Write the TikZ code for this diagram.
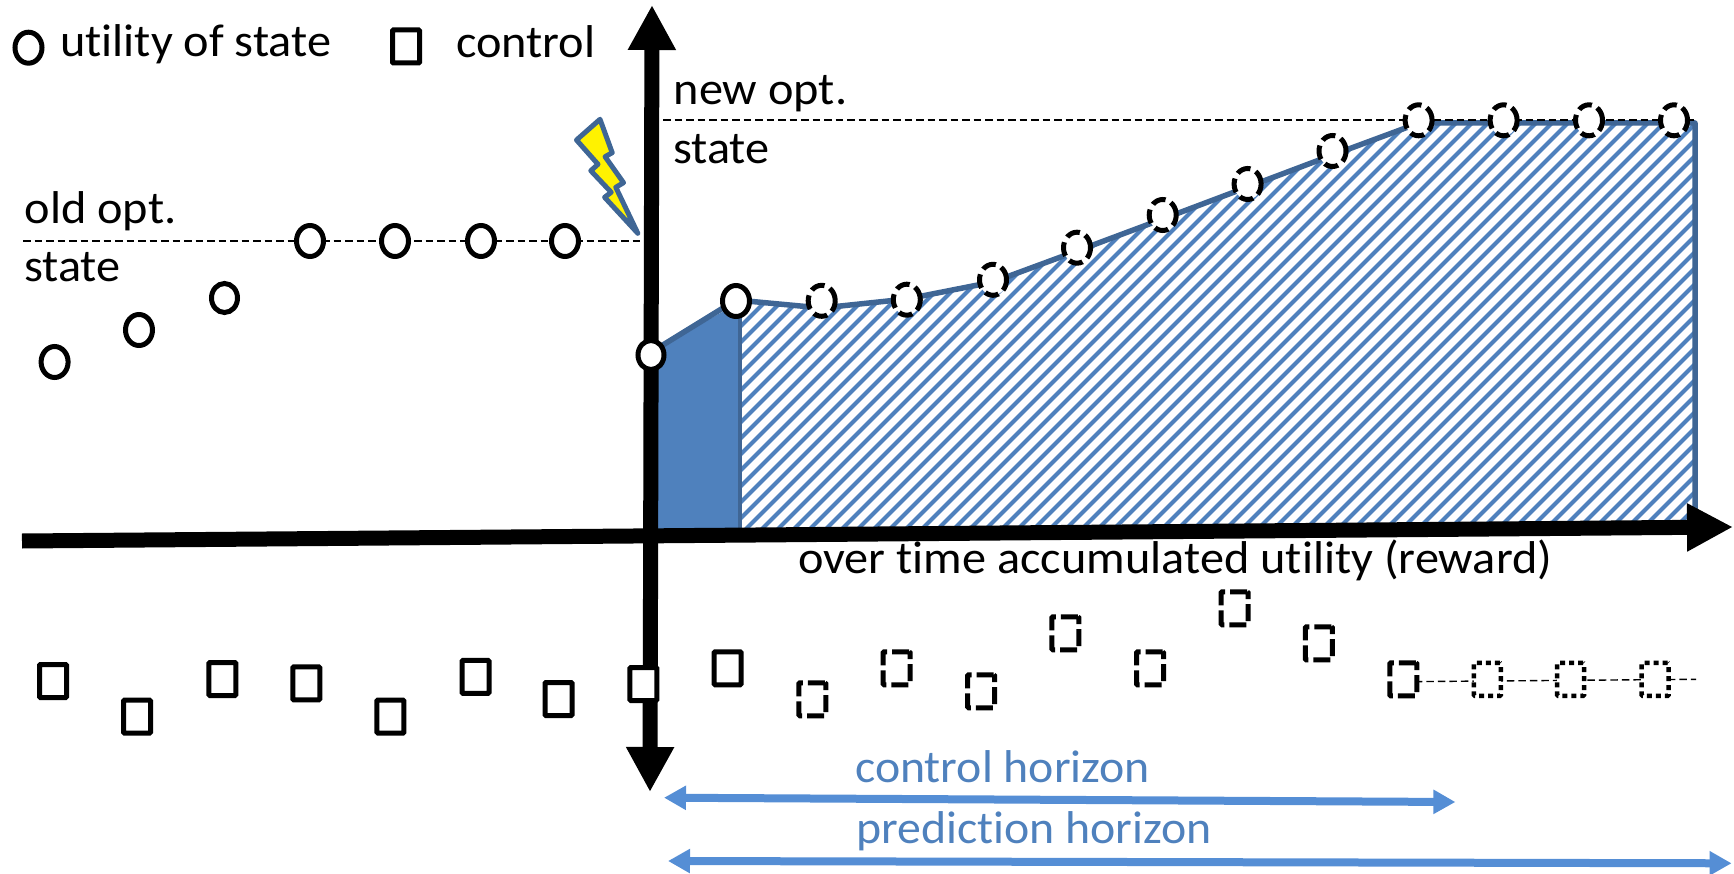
\documentclass[tikz,border=0pt]{standalone}
\usepackage{fontspec}
\setmainfont{Carlito}[FakeStretch=1.05,Ligatures=NoCommon]
\usetikzlibrary{arrows.meta,shapes.geometric}
\definecolor{bluefill}{HTML}{4F81BD}
\definecolor{blueline}{HTML}{3F6695}
\definecolor{bluearrow}{HTML}{558ED5}
\tikzset{
  px/.style={x=1pt,y=-1pt},
  lbl/.style={anchor=base west,inner sep=0pt,font=\fontsize{46}{50}\selectfont},
  bluelbl/.style={lbl,text=bluefill},
  ustate/.style={ellipse,draw=black,fill=white,line width=5pt,minimum width=27pt,minimum height=31pt,inner sep=0pt},
  ustatesmall/.style={ustate,minimum width=26pt,minimum height=29pt},
  ustatedash/.style={ustate,line width=5pt,dash pattern=on 14pt off 6pt},
  ctrl/.style={rectangle,draw=black,fill=white,line width=5pt,rounded corners=1pt,minimum width=27pt,minimum height=33pt,inner sep=0pt},
  ctrldash/.style={ctrl,line width=5pt,dash pattern=on 17pt off 5pt},
  ctrldot/.style={ctrl,line width=4.5pt,dash pattern=on 5pt off 4pt},
  refline/.style={draw=black,line width=1.4pt,dash pattern=on 7.5pt off 4pt},
  axisline/.style={line width=15pt,draw=black},
  horizon/.style={draw=bluearrow,line width=8pt,{Triangle[length=22pt,width=23pt]}-{Triangle[length=22pt,width=23pt]}},
}
\begin{document}
\begin{tikzpicture}[px]
\useasboundingbox (0,0) rectangle (1734,874);
% areas
\fill[bluefill] (658,348) -- (740,302) -- (740,535) -- (658,535) -- cycle;
\draw[blueline,line width=4.5pt] (740,302) -- (740,535);
\begin{scope}
\clip (742,303) -- (821.7,308) -- (906.8,299) -- (993,282) -- (1077,251) -- (1162.7,219) -- (1247.6,187) -- (1332.5,155) -- (1419,123) -- (1695,123) -- (1695,530) -- (742,535) -- cycle;
\foreach \s in {7,23,...,1500}{
  \draw[bluefill,line width=4.2pt] (\s+300,600) -- (\s+800,100);
}
\end{scope}
\draw[blueline,line width=5.5pt,line join=round] (658,348) -- (736,300) -- (821.7,308) -- (906.8,299) -- (993,282) -- (1077,251) -- (1162.7,219) -- (1247.6,187) -- (1332.5,155) -- (1419,123) -- (1695,123) -- (1695,526);
% reference lines
\coordinate (oldL) at (23,241);
\coordinate (oldR) at (645,241);
\coordinate (newL) at (663,120);
\coordinate (newR) at (1695,120);
\draw[refline] (oldL) -- (oldR);
\draw[refline] (newL) -- (newR);
% axes
\coordinate (xL) at (22,541);
\coordinate (xR) at (1733,527);
\coordinate (yT) at (652,5);
\coordinate (yB) at (650,792);
\draw[axisline,-{Triangle[length=46pt,width=45pt]}] (xL) -- (xR);
\draw[axisline,{Triangle[length=45pt,width=45pt]}-{Triangle[length=45pt,width=45pt]}] (yB) -- (yT);
% bolt
\draw[fill=yellow,draw=blueline,line width=5pt,line join=round] (600,119.3) -- (612.2,152.7) -- (605.1,156.7) -- (623.5,182.7) -- (615.8,187.3) -- (637.8,233.3) -- (604.6,197.3) -- (611.2,192.3) -- (590.8,170.7) -- (598,164.3) -- (576.5,140) -- cycle;
% state circles
\node[ustate] (legc) at (28.5,47.7) {};
\node[ustate] (s1) at (54.6,362) {};
\node[ustate] (s2) at (139,330) {};
\node[ustatesmall] (s3) at (224.5,298) {};
\node[ustate] (s4) at (310,241) {};
\node[ustate] (s5) at (395,241) {};
\node[ustate] (s6) at (481,241) {};
\node[ustate] (s7) at (565,241) {};
\node[ustatesmall] (s8) at (651,355) {};
\node[ustate] (s9) at (736,301) {};
\node[ustatedash] (p1) at (821.7,300.8) {};
\node[ustatedash] (p2) at (906.8,299.7) {};
\node[ustatedash] (p3) at (993,279.8) {};
\node[ustatedash] (p4) at (1077,247.7) {};
\node[ustatedash] (p5) at (1162.7,215) {};
\node[ustatedash] (p6) at (1247.6,184) {};
\node[ustatedash] (p7) at (1332.5,151) {};
\node[ustatedash] (p8) at (1418.6,120.3) {};
\node[ustatedash] (p9) at (1503.6,120.3) {};
\node[ustatedash] (p10) at (1589,120.3) {};
\node[ustatedash] (p11) at (1674,120.3) {};
% controls
\coordinate (ctrlEnd) at (1696,679.3);
\draw[refline] (1403.3,681.7) -- (ctrlEnd);
\node[ctrl] (legs) at (406,46.5) {};
\node[ctrl] (c1) at (53,681) {};
\node[ctrl] (c2) at (137,716.6) {};
\node[ctrl] (c3) at (222.3,679) {};
\node[ctrl] (c4) at (306.3,683.4) {};
\node[ctrl] (c5) at (390.4,716.6) {};
\node[ctrl] (c6) at (475.5,676.8) {};
\node[ctrl] (c7) at (558.5,699) {};
\node[ctrl] (c8) at (643.4,684) {};
\node[ctrl] (c9) at (727.6,668.3) {};
\node[ctrldash] (d1) at (812.4,699.3) {};
\node[ctrldash] (d2) at (896.6,668.3) {};
\node[ctrldash] (d3) at (981.2,691.3) {};
\node[ctrldash] (d4) at (1065.4,633.3) {};
\node[ctrldash] (d5) at (1150,668.3) {};
\node[ctrldash] (d6) at (1234.7,608.3) {};
\node[ctrldash] (d7) at (1318.8,643.3) {};
\node[ctrldash] (d8) at (1403.3,679.3) {};
\node[ctrldot] (e1) at (1487.4,679.3) {};
\node[ctrldot] (e2) at (1570.7,679.3) {};
\node[ctrldot] (e3) at (1655.2,679.3) {};
% horizons
\coordinate (chL) at (664,797.7);
\coordinate (chR) at (1455.4,802);
\coordinate (phL) at (668,861);
\coordinate (phR) at (1731.6,863.3);
\draw[horizon] (chL) -- (chR);
\draw[horizon] (phL) -- (phR);
% labels
\node[lbl] (t1) at (60,56.5) {utility of state};
\node[lbl] (t2) at (456,57.5) {control};
\node[lbl] (t3) at (673.5,105) {new opt.};
\node[lbl] (t4) at (673,163.5) {state};
\node[lbl] (t5) at (24.5,223.5) {old opt.};
\node[lbl] (t6) at (24,281.5) {state};
\node[lbl] (t7) at (798,573.5) {over time accumulated utility (reward)};
\node[bluelbl,xscale=.99] (t8) at (855,782.5) {control horizon};
\node[bluelbl,xscale=.99] (t9) at (856,843.5) {prediction horizon};
\end{tikzpicture}
\end{document}
